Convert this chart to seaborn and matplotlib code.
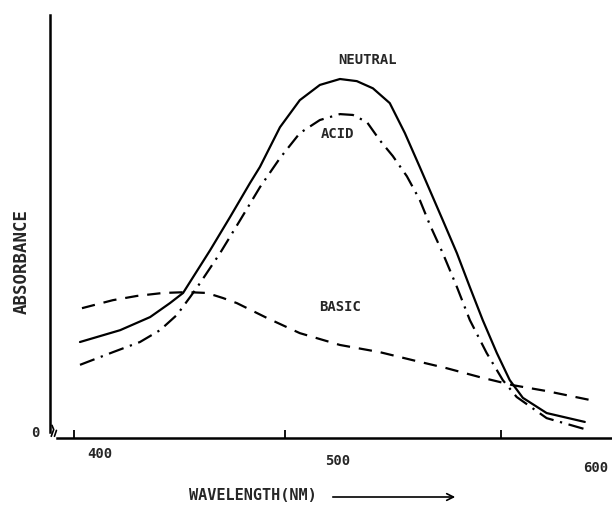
import numpy as np
import pandas as pd
import matplotlib
matplotlib.use("Agg")
import matplotlib.pyplot as plt
from matplotlib.transforms import ScaledTranslation
import seaborn as sns

# ---- data ----
neutral_nm = [391.9, 408.1, 420.2, 428.2, 433.5, 436.3, 444.4, 452.4, 460.5, 464.5, 472.6,
              480.6, 488.7, 496.8, 503.6, 510.1, 516.9, 523.0, 529.0, 538.3, 544.0, 549.2,
              554.4, 560.1, 565.3, 570.6, 580.2, 595.6]
neutral_abs = [0.227, 0.255, 0.286, 0.319, 0.343, 0.369, 0.444, 0.522, 0.603, 0.641, 0.735,
               0.799, 0.835, 0.849, 0.844, 0.827, 0.792, 0.721, 0.641, 0.515, 0.437, 0.357,
               0.279, 0.201, 0.137, 0.095, 0.059, 0.038]

acid_nm = [391.9, 405.2, 416.1, 424.2, 431.0, 436.3, 440.3, 448.4, 456.5, 464.5, 472.6,
           480.6, 488.7, 496.8, 502.0, 507.7, 512.9, 518.1, 523.8, 529.0, 533.1, 538.3,
           544.0, 549.2, 556.0, 562.5, 568.1, 580.2, 595.6]
acid_abs = [0.173, 0.203, 0.227, 0.255, 0.291, 0.333, 0.366, 0.437, 0.515, 0.593, 0.662,
            0.721, 0.752, 0.766, 0.764, 0.747, 0.704, 0.667, 0.619, 0.563, 0.504, 0.437,
            0.357, 0.279, 0.201, 0.137, 0.097, 0.047, 0.021]

basic_nm = [392.7, 405.2, 414.9, 425.4, 435.1, 443.1, 449.6, 455.2, 467.3, 480.6, 496.8,
            512.9, 526.2, 539.9, 553.2, 566.5, 580.2, 597.6]
basic_abs = [0.307, 0.326, 0.336, 0.343, 0.345, 0.343, 0.331, 0.319, 0.284, 0.248, 0.220,
             0.203, 0.184, 0.165, 0.144, 0.125, 0.111, 0.090]

x_ticks = [400, 500, 600]
x_tick_labels = ["400", "500", "600"]
x_tick_marks = [389.5, 474.6, 561.7]   # hand-drawn tick marks (offset from labels)
series_labels = ["NEUTRAL", "ACID", "BASIC"]

# ---- plot ----
sns.set_theme(style="white")
plt.rcParams['font.family'] = ['DejaVu Sans Mono', 'DejaVu Sans']

fig = plt.figure(figsize=(6.12, 5.07), dpi=100)
ax = fig.add_axes([0.0817, 0.1361, 0.918, 0.834])

lw = 1.6
sns.lineplot(x=neutral_nm, y=neutral_abs, ax=ax, color="black", lw=lw, sort=False)
sns.lineplot(x=acid_nm, y=acid_abs, ax=ax, color="black", lw=lw, sort=False,
             linestyle=(0, (7, 3, 1, 3)))
sns.lineplot(x=basic_nm, y=basic_abs, ax=ax, color="black", lw=lw, sort=False,
             linestyle=(0, (6, 4)))

ax.set_xlim(379.8, 606.5)
ax.set_ylim(0, 1.0)

# spines
for s in ["top", "right"]:
    ax.spines[s].set_visible(False)
for s in ["left", "bottom"]:
    ax.spines[s].set_color("black")
    ax.spines[s].set_linewidth(1.8)
ax.spines["left"].set_bounds(0.014, 1.0)
ax.spines["bottom"].set_bounds(382.5, 606.5)

# axis break mark at origin
ax.plot([380.3, 381.3, 380.6], [0.004, 0.02, 0.03], color="black", lw=1.2,
        clip_on=False)
ax.plot([381.6, 382.4], [0.004, 0.018], color="black", lw=1.2, clip_on=False)

ax.set_xticks(x_ticks)
ax.set_xticklabels(x_tick_labels, fontsize=10, fontweight="bold")
ax.set_xticks(x_tick_marks, minor=True)
ax.tick_params(axis="x", which="major", length=0, pad=8, bottom=True)
ax.tick_params(axis="x", which="minor", direction="in", length=6, width=1.3,
               color="black", bottom=True)
# hand-drawn labels sit on a slant
offsets = [(0, 2), (-10, -5), (0, -12)]
for lab, (dx, dy) in zip(ax.get_xticklabels(), offsets):
    lab.set_transform(lab.get_transform() +
                      ScaledTranslation(dx / 100, dy / 100, fig.dpi_scale_trans))

ax.set_yticks([0])
ax.set_yticklabels(["0"], fontsize=10, fontweight="bold")
ax.tick_params(axis="y", length=0, pad=10)
for lab in ax.get_yticklabels():
    lab.set_transform(lab.get_transform() +
                      ScaledTranslation(3 / 100, 6 / 100, fig.dpi_scale_trans))

# curve labels
ax.text(508, 0.894, series_labels[0], ha="center", va="center", fontsize=10,
        fontweight="bold")
ax.text(496, 0.719, series_labels[1], ha="center", va="center", fontsize=10,
        fontweight="bold")
ax.text(497, 0.309, series_labels[2], ha="center", va="center", fontsize=10,
        fontweight="bold")

# axis titles
fig.text(22 / 612, 1 - 262 / 507, "ABSORBANCE", rotation=90, ha="center",
         va="center", fontsize=12.5, fontweight="bold")
fig.text(253 / 612, 1 - 495 / 507, "WAVELENGTH(NM)", ha="center", va="center",
         fontsize=11, fontweight="bold")
fig.add_artist(matplotlib.patches.FancyArrowPatch(
    (330 / 612, 1 - 497 / 507), (458 / 612, 1 - 497 / 507),
    transform=fig.transFigure, arrowstyle="->", mutation_scale=12,
    color="black", lw=1.2))

fig.savefig("out.png", dpi=100)
